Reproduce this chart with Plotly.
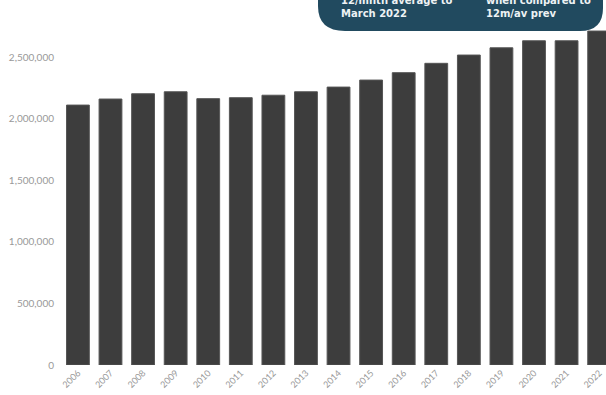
import plotly.graph_objects as go

years = ["2006", "2007", "2008", "2009", "2010", "2011", "2012", "2013", "2014",
         "2015", "2016", "2017", "2018", "2019", "2020", "2021", "2022"]
values = [2110000, 2159000, 2202000, 2218000, 2162000, 2170000, 2190000, 2218000, 2256000,
          2313000, 2373000, 2449000, 2516000, 2575000, 2632000, 2632000, 2711000]
y_ticks = [0, 500000, 1000000, 1500000, 2000000, 2500000]
y_tick_labels = ["0", "500,000", "1,000,000", "1,500,000", "2,000,000", "2,500,000"]

W, H = 606, 395
ML, MR, MT, MB = 60, 0, 0, 30
PW, PH = W - ML - MR, H - MT - MB


def px(x):
    return (x - ML) / PW


def py(y):
    return (H - MB - y) / PH


fig = go.Figure(go.Bar(
    x=list(range(len(years))), y=values,
    marker=dict(color="#3d3d3d", line=dict(color="#555555", width=1)),
    width=0.7,
))

# callout shape (rounded bottom corners)
pts = [
    ("M", 318, -10), ("L", 318, 6), ("Q", 318, 31, 345, 31), ("L", 580, 31),
    ("Q", 603, 31, 603, 8), ("L", 603, -10),
]
path = ""
for p in pts:
    if p[0] == "Q":
        path += f"Q {px(p[1]):.5f},{py(p[2]):.5f} {px(p[3]):.5f},{py(p[4]):.5f} "
    else:
        path += f"{p[0]} {px(p[1]):.5f},{py(p[2]):.5f} "
path += "Z"
fig.add_shape(type="path", path=path, xref="paper", yref="paper",
              fillcolor="#214a5f", line=dict(width=0), layer="above")

txt_font = dict(family="DejaVu Sans", size=10, color="#eef2f4")
for x0, lines in [(339, ["12/mnth average to", "March 2022"]),
                  (484, ["when compared to", "12m/av prev"])]:
    fig.add_annotation(x=px(x0), y=py(1), xref="paper", yref="paper",
                       text="<b>" + lines[0] + "</b>", showarrow=False,
                       xanchor="left", yanchor="middle", font=txt_font)
    fig.add_annotation(x=px(x0), y=py(14), xref="paper", yref="paper",
                       text="<b>" + lines[1] + "</b>", showarrow=False,
                       xanchor="left", yanchor="middle", font=txt_font)

fig.update_layout(
    width=W, height=H,
    margin=dict(l=ML, r=MR, t=MT, b=MB),
    paper_bgcolor="white", plot_bgcolor="white",
    showlegend=False,
    bargap=0.3,
    xaxis=dict(
        tickmode="array", tickvals=list(range(len(years))), ticktext=years,
        range=[-0.55, 16.21], tickangle=-45, showgrid=False, zeroline=False,
        showline=False, ticks="",
        tickfont=dict(family="Lato", size=9, color="#999999"),
    ),
    yaxis=dict(
        tickmode="array", tickvals=y_ticks, ticktext=y_tick_labels,
        range=[0, 2963000], showgrid=False, zeroline=False, showline=False,
        ticks="", ticklabelstandoff=5,
        tickfont=dict(family="Lato", size=10, color="#999999"),
    ),
)

fig.write_html("out.html")
